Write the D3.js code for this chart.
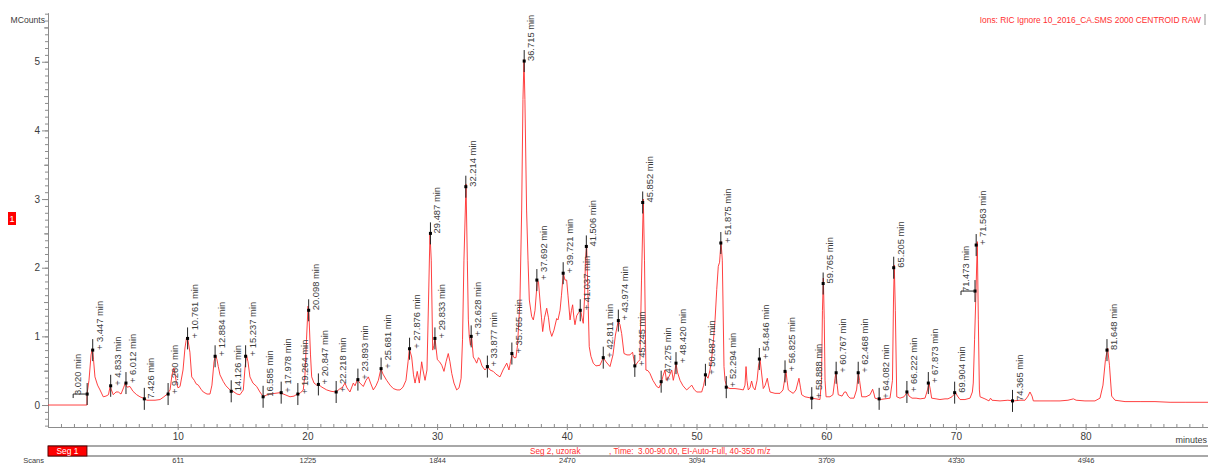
<!DOCTYPE html>
<html>
<head>
<meta charset="utf-8">
<script src="https://cdn.jsdelivr.net/npm/d3@7"></script>
<style>
  body { margin: 0; background: #fff; }
  svg { display: block; font-family: "Liberation Sans", Arial, sans-serif; }
</style>
</head>
<body>
<svg id="chart" width="1208" height="465"></svg>
<script>
// chromatogram trace, [minutes, MCounts]
const tic = [
  [0,0],[3.0,0],[3.01,0.16],[3.16,0.36],[3.32,0.73],[3.42,0.82],[3.51,0.66],[3.62,0.41],[3.82,0.29],[4.01,0.22],
  [4.26,0.12],[4.47,0.13],[4.66,0.15],[4.80,0.28],[4.89,0.22],[5.03,0.15],[5.24,0.19],[5.42,0.19],[5.63,0.16],[5.82,0.25],
  [5.96,0.32],[6.09,0.26],[6.32,0.27],[6.55,0.20],[6.84,0.15],[7.09,0.12],[7.35,0.10],[7.63,0.07],[7.86,0.07],[8.25,0.07],
  [8.64,0.08],[8.94,0.12],[9.20,0.16],[9.41,0.22],[9.56,0.44],[9.71,0.54],[9.87,0.36],[10.02,0.25],[10.18,0.27],[10.41,0.51],
  [10.56,0.83],[10.69,0.99],[10.79,0.95],[10.94,0.77],[11.08,0.41],[11.28,0.36],[11.41,0.31],[11.59,0.29],[11.80,0.23],[11.97,0.19],
  [12.26,0.16],[12.49,0.16],[12.64,0.29],[12.80,0.63],[12.91,0.73],[13.03,0.66],[13.13,0.56],[13.26,0.44],[13.52,0.34],[13.72,0.28],
  [14.03,0.22],[14.26,0.20],[14.57,0.16],[14.80,0.15],[15.06,0.22],[15.19,0.54],[15.30,0.73],[15.42,0.63],[15.57,0.41],[15.80,0.32],
  [16.09,0.27],[16.34,0.19],[16.60,0.12],[16.89,0.15],[17.12,0.16],[17.50,0.17],[17.89,0.18],[18.28,0.15],[18.66,0.12],[18.97,0.13],
  [19.22,0.16],[19.43,0.17],[19.68,0.22],[19.81,0.44],[19.93,0.95],[20.05,1.44],[20.12,1.31],[20.24,0.73],[20.33,0.41],[20.51,0.32],
  [20.72,0.29],[20.84,0.30],[21.12,0.26],[21.49,0.22],[21.82,0.20],[22.21,0.19],[22.52,0.24],[22.67,0.25],[22.90,0.32],[23.05,0.25],
  [23.28,0.19],[23.54,0.32],[23.67,0.28],[23.85,0.37],[24.05,0.32],[24.31,0.27],[24.52,0.36],[24.70,0.41],[24.87,0.32],[25.08,0.22],
  [25.29,0.28],[25.47,0.36],[25.67,0.53],[25.83,0.45],[26.11,0.36],[26.37,0.29],[26.62,0.24],[26.91,0.22],[27.14,0.22],[27.37,0.26],
  [27.60,0.36],[27.76,0.63],[27.86,0.82],[28.04,0.70],[28.18,0.44],[28.30,0.32],[28.47,0.49],[28.63,0.32],[28.81,0.63],[28.91,0.51],
  [29.07,0.36],[29.22,0.51],[29.34,1.53],[29.45,2.50],[29.55,2.11],[29.66,0.80],[29.76,0.87],[29.84,0.97],[30.02,0.66],[30.19,0.63],
  [30.36,0.58],[30.53,0.49],[30.69,0.63],[30.86,0.75],[30.99,0.63],[31.13,0.46],[31.30,0.32],[31.51,0.22],[31.69,0.25],[31.85,0.39],
  [31.96,0.95],[32.07,2.11],[32.23,3.22],[32.33,2.11],[32.41,1.24],[32.48,1.00],[32.57,0.87],[32.66,1.00],[32.79,0.70],[32.92,0.66],
  [33.05,0.61],[33.19,0.69],[33.31,0.66],[33.46,0.57],[33.69,0.51],[33.90,0.56],[34.08,0.51],[34.33,0.49],[34.54,0.45],[34.85,0.41],
  [35.08,0.51],[35.37,0.61],[35.54,0.51],[35.66,0.63],[35.80,0.75],[35.93,0.69],[36.08,0.69],[36.20,0.87],[36.31,1.24],[36.39,1.53],
  [36.52,2.84],[36.62,4.45],[36.70,5.03],[36.77,4.45],[36.90,2.84],[37.01,2.11],[37.11,1.53],[37.29,1.29],[37.42,1.24],[37.55,1.38],
  [37.73,1.82],[37.82,1.79],[37.93,1.53],[38.05,1.27],[38.14,1.07],[38.28,1.27],[38.45,1.41],[38.59,1.27],[38.70,1.09],[38.84,1.00],
  [39.01,1.09],[39.22,1.26],[39.32,1.24],[39.48,1.38],[39.59,1.60],[39.73,1.92],[39.86,1.82],[39.99,1.82],[40.09,1.60],[40.25,1.24],
  [40.36,1.38],[40.45,1.46],[40.55,1.27],[40.63,1.17],[40.76,1.30],[40.89,1.34],[41.07,1.38],[41.17,1.27],[41.27,1.19],[41.36,1.53],
  [41.44,2.11],[41.53,2.33],[41.62,1.68],[41.73,0.85],[41.86,0.71],[42.04,0.61],[42.25,0.57],[42.56,0.58],[42.81,0.69],[43.02,0.63],
  [43.33,0.56],[43.56,0.73],[43.75,1.02],[43.97,1.23],[44.10,1.17],[44.23,1.04],[44.41,0.75],[44.64,0.73],[44.87,0.73],[45.07,0.77],
  [45.26,0.57],[45.49,0.63],[45.64,0.66],[45.76,1.82],[45.90,3.00],[45.99,2.11],[46.10,0.51],[46.26,0.50],[46.41,0.46],[46.64,0.36],
  [46.93,0.27],[47.11,0.25],[47.31,0.34],[47.41,0.42],[47.57,0.51],[47.68,0.36],[47.82,0.39],[47.96,0.45],[48.09,0.51],[48.21,0.36],
  [48.30,0.44],[48.42,0.61],[48.53,0.48],[48.73,0.36],[48.96,0.28],[49.24,0.22],[49.42,0.25],[49.63,0.29],[49.81,0.23],[50.01,0.19],
  [50.19,0.19],[50.40,0.19],[50.54,0.28],[50.71,0.44],[50.89,0.39],[51.04,0.51],[51.20,0.73],[51.31,0.95],[51.43,1.24],[51.56,1.68],
  [51.68,2.02],[51.78,2.08],[51.89,2.38],[51.99,2.11],[52.04,1.53],[52.12,0.56],[52.20,0.36],[52.33,0.26],[52.58,0.24],[52.97,0.24],
  [53.35,0.23],[53.61,0.22],[53.74,0.29],[53.82,0.56],[53.89,0.36],[53.99,0.22],[54.12,0.25],[54.25,0.35],[54.36,0.26],[54.51,0.22],
  [54.67,0.36],[54.78,0.57],[54.90,0.67],[55.01,0.48],[55.15,0.24],[55.28,0.28],[55.46,0.39],[55.55,0.29],[55.67,0.19],[56.05,0.17],
  [56.44,0.17],[56.67,0.22],[56.90,0.49],[56.98,0.36],[57.08,0.22],[57.29,0.19],[57.46,0.17],[57.67,0.22],[57.90,0.39],[58.02,0.25],
  [58.11,0.15],[58.36,0.12],[58.88,0.10],[59.21,0.09],[59.52,0.08],[59.64,0.36],[59.71,1.38],[59.78,1.85],[59.85,1.24],[59.91,0.36],
  [59.99,0.12],[60.29,0.12],[60.52,0.15],[60.68,0.39],[60.75,0.47],[60.85,0.29],[60.93,0.15],[61.22,0.13],[61.41,0.19],[61.53,0.19],
  [61.68,0.13],[61.84,0.10],[62.14,0.10],[62.34,0.22],[62.48,0.47],[62.57,0.36],[62.74,0.12],[63.07,0.12],[63.38,0.15],[63.58,0.23],
  [63.69,0.16],[63.76,0.10],[64.15,0.08],[64.53,0.09],[64.92,0.10],[65.11,0.36],[65.19,1.53],[65.25,2.04],[65.33,1.38],[65.44,0.12],
  [65.69,0.10],[66.00,0.12],[66.26,0.19],[66.39,0.13],[66.62,0.10],[66.93,0.10],[67.24,0.09],[67.62,0.10],[67.81,0.22],[67.93,0.32],
  [68.03,0.22],[68.13,0.10],[68.47,0.09],[68.77,0.08],[69.16,0.09],[69.39,0.09],[69.70,0.12],[69.98,0.18],[70.12,0.13],[70.32,0.08],
  [70.70,0.08],[71.09,0.10],[71.27,0.19],[71.34,0.32],[71.44,0.95],[71.55,1.66],[71.65,2.38],[71.73,1.24],[71.81,0.22],[71.86,0.12],
  [72.24,0.09],[72.55,0.06],[72.67,0.10],[72.78,0.07],[73.40,0.06],[74.01,0.07],[74.43,0.06],[74.94,0.07],[75.33,0.07],[75.56,0.13],
  [75.71,0.19],[75.87,0.13],[75.97,0.06],[76.48,0.06],[77.26,0.06],[78.03,0.06],[78.64,0.07],[79.06,0.09],[79.27,0.07],[79.95,0.06],
  [80.72,0.06],[81.11,0.10],[81.34,0.29],[81.53,0.66],[81.70,0.83],[81.84,0.58],[82.01,0.13],[82.27,0.07],[83.04,0.05],[84.20,0.05],
  [85.35,0.05],[86.51,0.04],[87.67,0.04],[88.82,0.04],[90.0,0.04]
];

// labelled peaks
const peakTimes = [3.020,3.447,4.833,6.012,7.426,9.260,10.761,12.884,14.126,15.237,16.585,17.978,19.264,20.098,20.847,22.218,
  23.893,25.681,27.876,29.487,29.833,32.214,32.628,33.877,35.765,36.715,37.692,39.721,41.037,41.506,42.811,43.974,45.245,45.852,
  47.275,48.420,50.687,51.875,52.294,54.846,56.825,58.888,59.765,60.767,62.468,64.082,65.205,66.222,67.873,69.904,71.473,71.563,
  74.365,81.648];
const peakCounts = [0.16,0.80,0.28,0.32,0.09,0.16,0.97,0.71,0.20,0.71,0.12,0.18,0.16,1.38,0.30,0.19,
  0.37,0.53,0.82,2.50,0.97,3.18,1.00,0.56,0.75,5.01,1.82,1.92,1.38,2.31,0.69,1.23,0.57,2.95,
  0.34,0.61,0.44,2.36,0.26,0.67,0.49,0.10,1.77,0.47,0.47,0.09,2.00,0.19,0.32,0.18,1.66,2.33,
  0.06,0.80];
const peakPlus = [0,1,1,1,0,1,1,1,0,1,0,1,1,0,1,1,
  1,1,1,0,1,0,1,1,1,0,1,1,1,0,1,1,1,0,
  1,1,1,1,1,1,1,1,0,1,1,1,0,1,1,0,0,1,
  0,0];
const leftLabelled = [3.020, 71.473];

const yTicks = [0,1,2,3,4,5];
const xTicks = [10,20,30,40,50,60,70,80];
const scanLabels = ["611","1225","1844","2470","3094","3709","4330","4946"];

const svg = d3.select("#chart");
const width = +svg.attr("width");
const height = +svg.attr("height");
const margin = { top: 13, right: 0, bottom: 38, left: 48 };

const x = d3.scaleLinear().domain([0, 90]).range([margin.left, margin.left + 90 * 12.97]);
const y = d3.scaleLinear().domain([-0.32, 5.71]).range([height - margin.bottom, margin.top]);
const axisY = height - margin.bottom;

const grey = "#8c8c8c";
const textGrey = "#3c3c3c";

// y axis, minor every 0.1, medium at .5
const yAxisMinor = d3.axisLeft(y).tickValues(d3.range(-3, 58).map(d => d / 10)).tickSize(3).tickFormat("").tickSizeOuter(0);
const yAxisMajor = d3.axisLeft(y).tickValues(yTicks).tickSize(6).tickPadding(2).tickFormat(d3.format("d")).tickSizeOuter(0);
const yMid = d3.axisLeft(y).tickValues([0.5,1.5,2.5,3.5,4.5,5.5]).tickSize(4).tickFormat("").tickSizeOuter(0);

[yAxisMinor, yMid, yAxisMajor].forEach(ax => {
  const g = svg.append("g").attr("transform", "translate(" + margin.left + ",0)").call(ax);
  g.selectAll("path.domain").attr("stroke", grey);
  g.selectAll("line").attr("stroke", grey);
  g.selectAll("text").attr("fill", textGrey).attr("font-size", 10).attr("font-family", "Liberation Sans, Arial, sans-serif");
});

svg.append("text").attr("x", 45).attr("y", 23).attr("text-anchor", "end")
  .attr("font-size", 8.6).attr("fill", textGrey).text("MCounts");

// x axis
const xAxisMinor = d3.axisBottom(x).tickValues(d3.range(0, 91)).tickSize(-3).tickFormat("").tickSizeOuter(0);
const xAxisMajor = d3.axisBottom(x).tickValues(xTicks).tickSize(3).tickPadding(3).tickSizeOuter(0);
[xAxisMinor, xAxisMajor].forEach(ax => {
  const g = svg.append("g").attr("transform", "translate(0," + axisY + ")").call(ax);
  g.selectAll("path.domain").attr("stroke", grey);
  g.selectAll("line").attr("stroke", grey);
  g.selectAll("text").attr("fill", textGrey).attr("font-size", 10).attr("font-family", "Liberation Sans, Arial, sans-serif");
});
svg.append("text").attr("x", 1207).attr("y", 443).attr("text-anchor", "end")
  .attr("font-size", 9).attr("fill", textGrey).text("minutes");

// trace
const line = d3.line().x(d => x(d[0])).y(d => y(d[1]));
svg.append("path").datum(tic)
  .attr("fill", "none").attr("stroke", "#ff2b2b").attr("stroke-width", 0.9)
  .attr("d", line);

// peak markers and labels
const peaks = peakTimes.map((t, i) => ({ t: t, v: peakCounts[i], plus: peakPlus[i] === 1, left: leftLabelled.includes(t) }));
const pk = svg.append("g").selectAll("g").data(peaks).join("g")
  .attr("transform", d => "translate(" + x(d.t) + "," + y(d.v) + ")");

pk.append("line").attr("x1", 0).attr("x2", 0).attr("y1", -11).attr("y2", 11)
  .attr("stroke", "#262626").attr("stroke-width", 1);
pk.append("rect").attr("x", -1.5).attr("y", -1.5).attr("width", 3).attr("height", 3).attr("fill", "#000");

pk.filter(d => d.left).append("path")
  .attr("d", "M-14,0H0M-14,0V4").attr("stroke", "#262626").attr("fill", "none");

pk.append("text")
  .attr("transform", d => d.left ? "translate(-6,1) rotate(-90)" : "translate(10,0) rotate(-90)")
  .attr("font-size", 9.4).attr("fill", textGrey)
  .text(d => (d.plus ? "+ " : "") + d3.format(".3f")(d.t) + " min");

// header text
svg.append("text").attr("x", 1201).attr("y", 23).attr("text-anchor", "end")
  .attr("font-size", 8.4).attr("fill", "#ff3030")
  .text("Ions: RIC Ignore 10_2016_CA.SMS 2000 CENTROID RAW");
svg.append("rect").attr("x", 1204).attr("y", 14).attr("width", 2).attr("height", 11).attr("fill", "#c8c8c8");

// segment marker on left
svg.append("rect").attr("x", 8).attr("y", 212).attr("width", 8).attr("height", 13).attr("fill", "#ff0000");
svg.append("text").attr("x", 12).attr("y", 222).attr("text-anchor", "middle")
  .attr("font-size", 9).attr("fill", "#fff").text("1");

// scans bar
const barTop = 446, barBot = 456;
svg.append("line").attr("x1", margin.left).attr("x2", width).attr("y1", barTop).attr("y2", barTop)
  .attr("stroke", "#a8a8a8").attr("stroke-width", 2);
svg.append("line").attr("x1", margin.left).attr("x2", width).attr("y1", barBot).attr("y2", barBot)
  .attr("stroke", "#a8a8a8").attr("stroke-width", 2);
svg.append("rect").attr("x", margin.left).attr("y", barTop).attr("width", x(3) - margin.left).attr("height", barBot - barTop)
  .attr("fill", "#ff0000").attr("stroke", "#5a0000").attr("stroke-width", 1);
svg.append("text").attr("x", (margin.left + x(3)) / 2).attr("y", barBot - 2).attr("text-anchor", "middle")
  .attr("font-size", 8.4).attr("fill", "#fff").text("Seg 1");
svg.append("text").attr("x", 530).attr("y", 454).attr("font-size", 8.2).attr("fill", "#ff3030").text("Seg 2, uzorak");
svg.append("text").attr("x", 609).attr("y", 454).attr("font-size", 8.2).attr("fill", "#ff3030")
  .attr("xml:space", "preserve").text(", Time:  3.00-90.00, EI-Auto-Full, 40-350 m/z");

// scan numbers; the reference shows them clipped by the bottom edge, kept just inside here
const scanAxis = d3.axisBottom(x).tickValues(xTicks).tickSize(2).tickFormat((d, i) => scanLabels[i]).tickSizeOuter(0);
const sg = svg.append("g").attr("transform", "translate(0," + (barBot + 1) + ")").call(scanAxis);
sg.select("path.domain").remove();
sg.selectAll("line").attr("stroke", grey);
sg.selectAll("text").attr("y", 6).attr("dy", null)
  .attr("fill", textGrey).attr("font-size", 7.5).attr("font-family", "Liberation Sans, Arial, sans-serif");
svg.append("text").attr("x", 44).attr("y", 463).attr("text-anchor", "end")
  .attr("font-size", 7.5).attr("fill", textGrey).text("Scans");
</script>
</body>
</html>
